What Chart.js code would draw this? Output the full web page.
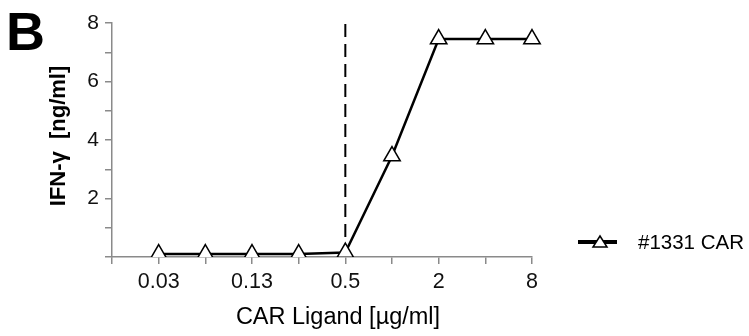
<!DOCTYPE html>
<html>
<head>
<meta charset="utf-8">
<script src="https://cdn.jsdelivr.net/npm/chart.js@4"></script>
<style>
  html, body { margin: 0; padding: 0; background: #fff; }
  canvas { display: block; }
</style>
</head>
<body>
<canvas id="chartB" width="749" height="336"></canvas>
<script>
// x categories (first slot is the empty space left of the first point)
var concentrations = ['', '0.03', '0.06', '0.13', '0.25', '0.5', '1', '2', '4', '8'];
var ifnValues = [null, 0.1, 0.1, 0.1, 0.1, 0.15, 3.45, 7.45, 7.45, 7.45];
var thresholdX = '0.5';
var thresholdY = [0, 8];
var seriesName = '#1331 CAR';
var panelLabel = 'B';
var xTitle = 'CAR Ligand [\u00b5g/ml]';
var yTitle = 'IFN-\u03b3  [ng/ml]';

var axisGrey = '#8a8a8a';
Chart.defaults.font.family = '"Liberation Sans", Arial, sans-serif';
Chart.defaults.color = '#111';

// titles, panel letter and legend drawn on the canvas
var extras = {
  id: 'extras',
  afterDraw: function(chart) {
    var ctx = chart.ctx;
    ctx.save();
    ctx.fillStyle = '#000';
    ctx.textBaseline = 'top';
    ctx.textAlign = 'left';
    ctx.font = 'bold 54px "Liberation Sans", Arial, sans-serif';
    ctx.fillText(panelLabel, 6, 8);

    ctx.font = '23.5px "Liberation Sans", Arial, sans-serif';
    ctx.textAlign = 'center';
    ctx.textBaseline = 'middle';
    ctx.fillText(xTitle, 338, 318);

    ctx.save();
    ctx.translate(59, 136);
    ctx.rotate(-Math.PI / 2);
    ctx.font = 'bold 22px "Liberation Sans", Arial, sans-serif';
    ctx.fillText(yTitle, 0, 0);
    ctx.restore();

    // legend
    ctx.strokeStyle = '#000';
    ctx.lineWidth = 4;
    ctx.beginPath();
    ctx.moveTo(578, 242);
    ctx.lineTo(617, 242);
    ctx.stroke();
    ctx.lineWidth = 1.5;
    ctx.fillStyle = '#fff';
    ctx.beginPath();
    ctx.moveTo(600, 236);
    ctx.lineTo(607, 247);
    ctx.lineTo(593, 247);
    ctx.closePath();
    ctx.fill();
    ctx.stroke();
    ctx.fillStyle = '#000';
    ctx.textAlign = 'left';
    ctx.font = '20.5px "Liberation Sans", Arial, sans-serif';
    ctx.fillText(seriesName, 638, 243);
    ctx.restore();
  }
};

new Chart(document.getElementById('chartB'), {
  type: 'line',
  data: {
    labels: concentrations,
    datasets: [
      {
        label: seriesName,
        data: ifnValues,
        borderColor: '#000',
        borderWidth: 2.5,
        pointStyle: 'triangle',
        pointRadius: 9.5,
        pointBorderWidth: 1.5,
        pointBorderColor: '#000',
        pointBackgroundColor: '#fff',
        tension: 0,
        order: 0
      },
      {
        label: 'threshold',
        data: [{x: thresholdX, y: thresholdY[0]}, {x: thresholdX, y: thresholdY[1]}],
        borderColor: '#000',
        borderWidth: 2,
        borderDash: [13, 7],
        pointRadius: 0,
        order: 1
      }
    ]
  },
  options: {
    responsive: false,
    animation: false,
    layout: { padding: { left: 0, top: 23, right: 217, bottom: 0 } },
    plugins: {
      legend: { display: false },
      tooltip: { enabled: false }
    },
    scales: {
      x: {
        type: 'category',
        offset: false,
        border: { color: axisGrey, width: 1.5 },
        grid: { drawOnChartArea: false, color: axisGrey, tickLength: 7, lineWidth: 1.5 },
        ticks: {
          autoSkip: false,
          maxRotation: 0,
          padding: 5,
          font: { size: 21.5 },
          callback: function(value, index) {
            return index % 2 === 1 ? this.getLabelForValue(value) : '';
          }
        },
        afterFit: function(scale) { scale.height = 79; }
      },
      y: {
        min: 0,
        max: 8,
        border: { color: axisGrey, width: 1.5 },
        grid: { drawOnChartArea: false, color: axisGrey, tickLength: 7, lineWidth: 1.5 },
        ticks: {
          stepSize: 1,
          padding: 6,
          font: { size: 21 },
          callback: function(value) {
            return (value > 0 && value % 2 === 0) ? value : '';
          }
        },
        afterFit: function(scale) { scale.width = 112; }
      }
    }
  },
  plugins: [extras]
});
</script>
</body>
</html>
